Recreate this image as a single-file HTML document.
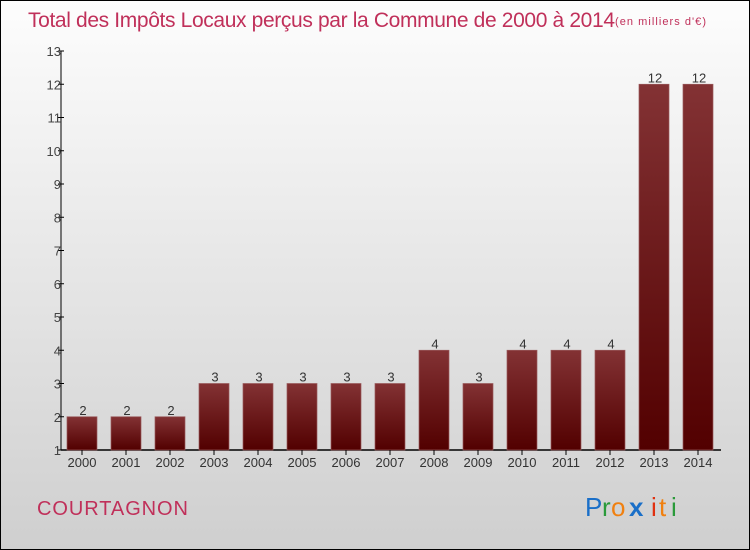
<!DOCTYPE html>
<html><head><meta charset="utf-8"><style>
body{margin:0}
#c{position:relative;width:748px;height:548px;border:1px solid #000;background:linear-gradient(#fdfdfd,#cfcfcf);overflow:hidden;font-family:"Liberation Sans",sans-serif}
</style></head><body>
<div id="c">
<svg id="s" width="748" height="548">
<defs><linearGradient id="g" x1="0" y1="0" x2="0" y2="1"><stop offset="0" stop-color="#833234"/><stop offset="1" stop-color="#520000"/></linearGradient></defs>
<text x="27" y="26" font-size="21" fill="#c0305a" textLength="587" style="font-family:'Liberation Sans',sans-serif">Total des Impôts Locaux perçus par la Commune de 2000 à 2014</text>
<text x="614" y="24" font-size="11" fill="#c0305a" textLength="91">(en milliers d'€)</text>
<text x="36" y="514" font-size="20" fill="#c0305a" textLength="151">COURTAGNON</text>
<g font-size="26" font-family="'Liberation Sans',sans-serif">
<text x="584" y="515" fill="#1a6fc8">P</text><text x="601" y="515" fill="#2a9a3a">r</text><text x="610" y="515" fill="#f08010">o</text><text x="628" y="515" fill="#1a6fc8" font-weight="bold">x</text><text x="650" y="515" fill="#e03010">i</text><text x="658" y="515" fill="#f08010">t</text><text x="670" y="515" fill="#2a9a3a">i</text>
</g>
</svg></div>
<script>
const years=["2000","2001","2002","2003","2004","2005","2006","2007","2008","2009","2010","2011","2012","2013","2014"];
const values=[2,2,2,3,3,3,3,3,4,3,4,4,4,12,12];
const yTicks=[1,2,3,4,5,6,7,8,9,10,11,12,13];
const s=document.getElementById('s');const NS='http://www.w3.org/2000/svg';
function y(v){return 449-(v-1)*33.25;}
function x(i){return 66+i*44;}
function mk(t,a,txt){const e=document.createElementNS(NS,t);for(const k in a)e.setAttribute(k,a[k]);if(txt!==undefined)e.textContent=txt;s.appendChild(e);return e;}
let ax=mk('line',{x1:60,y1:y(13),x2:60,y2:449,stroke:'#000'});


let bx=mk('line',{x1:60,y1:449,x2:720,y2:449,stroke:'#000','stroke-width':1.5});


yTicks.forEach(v=>{
 let t=mk('line',{x1:57,y1:y(v),x2:63,y2:y(v),stroke:'#000'});
 
 
 let l=mk('text',{x:60,y:y(v)+5,'font-size':13,fill:'#444','text-anchor':'end'},v);
 
 
});
years.forEach((yr,i)=>{
 const v=values[i];
 let r=mk('rect',{x:x(i),y:y(v),width:30,height:449-y(v),fill:'url(#g)',stroke:'#9a5a5c','stroke-width':0.7});
 
 
 let vl=mk('text',{x:x(i)+16,y:y(v)-2,'font-size':13,fill:'#333','text-anchor':'middle'},v);
 
 
 let tk=mk('line',{x1:x(i)+15,y1:449,x2:x(i)+15,y2:454,stroke:'#000'});
 
 
 let xl=mk('text',{x:x(i)+15,y:466,'font-size':13,fill:'#333','text-anchor':'middle'},yr);
 
 
});
</script>
</body></html>
